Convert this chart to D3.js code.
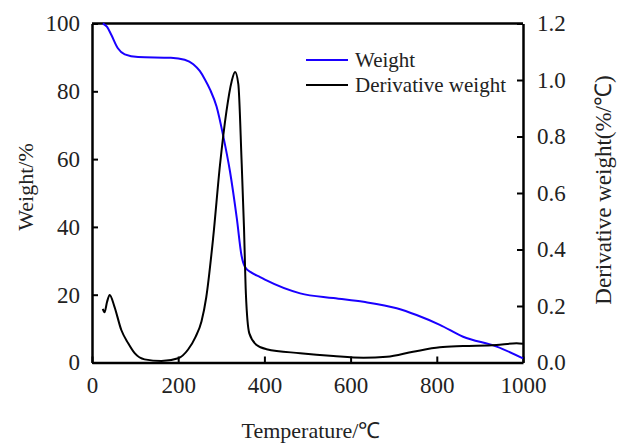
<!DOCTYPE html>
<html><head><meta charset="utf-8">
<script src="https://cdn.jsdelivr.net/npm/d3@7"></script>
<style>body{margin:0;background:#fff;} svg{display:block;font-family:"Liberation Serif","Times New Roman",serif;}</style>
</head><body>
<svg id="c" width="617" height="443"></svg>
<script>
const weightT = [25,35,45,60,76,107,183,215,235,250,262,274,289,305,320,336,347,355,370,390,405,483,560,630,707,753,807,861,939,1000];
const weightV = [100,99,96.6,92.7,90.9,90.1,89.9,89.3,88,86,83.5,80.5,75.5,66.5,56.5,42.5,31.5,28.2,26.5,25.2,24.2,20.4,19,17.9,16,14,11.1,7.6,4.7,1.2];
const derivT = [25,29,35,41,52,68,84,99,122,161,200,223,240,254,265,281,297,312,324,332,339.5,347,352.6,357,365,382,405,483,560,630,684,745,807,861,938,985,1000];
const derivV = [0.19,0.178,0.215,0.239,0.198,0.115,0.068,0.033,0.011,0.005,0.015,0.046,0.09,0.145,0.23,0.44,0.7,0.89,0.995,1.028,0.985,0.717,0.48,0.245,0.103,0.062,0.047,0.033,0.023,0.017,0.02,0.038,0.054,0.058,0.062,0.068,0.066];
const xTicks = [0,200,400,600,800,1000];
const yLeftTicks = [0,20,40,60,80,100];
const yRightTicks = [0,0.2,0.4,0.6,0.8,1.0,1.2];
const seriesNames = ["Weight","Derivative weight"];
const colors = ["#1a00ff","#000000"];

const svg = d3.select("#c");
const L=92,R=523,T=23.5,B=362.5;
const x = d3.scaleLinear().domain([0,1000]).range([L,R]);
const yL = d3.scaleLinear().domain([0,100]).range([B,T]);
const yR = d3.scaleLinear().domain([0,1.2]).range([B,T]);

const fs = 23;
const gx = svg.append("g").attr("transform",`translate(0,${B})`)
  .call(d3.axisBottom(x).tickValues(xTicks).tickFormat(d3.format("d")).tickSizeInner(-6).tickSizeOuter(0).tickPadding(14));
const gl = svg.append("g").attr("transform",`translate(${L},0)`)
  .call(d3.axisLeft(yL).tickValues(yLeftTicks).tickSizeInner(-6).tickSizeOuter(0).tickPadding(12));
const gr = svg.append("g").attr("transform",`translate(${R},0)`)
  .call(d3.axisRight(yR).tickValues(yRightTicks).tickFormat(d3.format(".1f")).tickSizeInner(-6).tickSizeOuter(0).tickPadding(14));
[gx,gl,gr].forEach(g=>{
  g.selectAll("text").attr("font-size",fs).attr("font-family","Liberation Serif").attr("fill","#222");
  g.selectAll("line").attr("stroke","#000").attr("stroke-width",2);
  g.select(".domain").attr("stroke","#000").attr("stroke-width",2.5);
});
svg.append("line").attr("x1",L).attr("x2",R).attr("y1",T).attr("y2",T).attr("stroke","#000").attr("stroke-width",2.5);

const wData = weightT.map((t,i)=>[t,weightV[i]]);
const dData = derivT.map((t,i)=>[t,derivV[i]]);
svg.append("path").datum(wData).attr("fill","none").attr("stroke",colors[0]).attr("stroke-width",2)
  .attr("d",d3.line().x(d=>x(d[0])).y(d=>yL(d[1])).curve(d3.curveMonotoneX));
svg.append("path").datum(dData).attr("fill","none").attr("stroke",colors[1]).attr("stroke-width",2)
  .attr("d",d3.line().x(d=>x(d[0])).y(d=>yR(d[1])).curve(d3.curveMonotoneX));

seriesNames.forEach((n,i)=>{
  const yy = 60 + i*25;
  svg.append("line").attr("x1",306).attr("x2",348).attr("y1",yy).attr("y2",yy).attr("stroke",colors[i]).attr("stroke-width",2);
  svg.append("text").attr("x",355).attr("y",yy+7).attr("font-size",21).attr("fill","#222").text(n);
});

svg.append("text").attr("x",311).attr("y",438).attr("text-anchor","middle").attr("font-size",22).attr("fill","#222").text("Temperature/℃");
svg.append("text").attr("transform","translate(33,187) rotate(-90)").attr("text-anchor","middle").attr("font-size",22).attr("fill","#222").text("Weight/%");
svg.append("text").attr("transform","translate(611,190) rotate(-90)").attr("text-anchor","middle").attr("font-size",23).attr("fill","#222").text("Derivative weight(%/℃)");
</script>
</body></html>
